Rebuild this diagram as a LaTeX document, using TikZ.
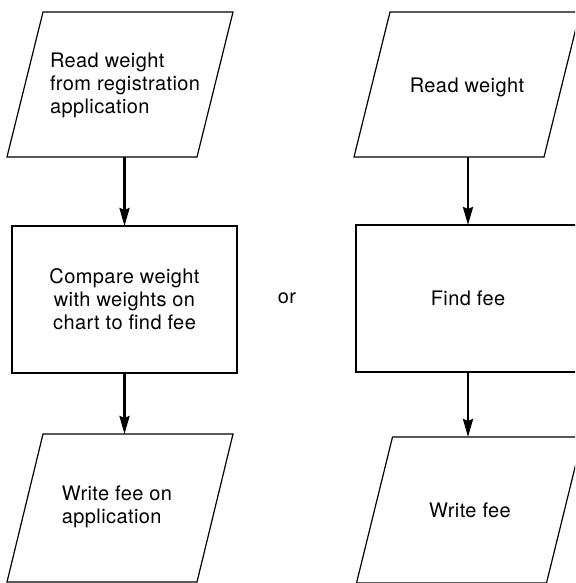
\documentclass[tikz,border=0pt]{standalone}
\usepackage{fontspec}
\setmainfont{TeX Gyre Heros}[LetterSpace=2]
\usetikzlibrary{arrows.meta}
\begin{document}
\begin{tikzpicture}[x=1pt,y=1pt,
  every node/.style={font=\fontsize{20}{23}\selectfont, inner sep=0pt, outer sep=0pt},
  parabody/.style={rectangle, minimum width=190pt, minimum height=145pt},
  paraline/.style={line width=1.2pt, line join=miter},
  procbox/.style={draw, line width=1.2pt, rectangle, minimum width=225pt, minimum height=147pt},
  arr/.style={line width=2.6pt, -{Stealth[length=18pt,width=10pt,inset=2pt]}}]
\useasboundingbox (0,0) rectangle (575,-583);
\clip (0,0) rectangle (575,-583);
% left column
\node[parabody] (p1) at (120,-84.5) {};
\node[align=left] (t1) at (125,-85) {Read weight\\from registration\\application};
\node[procbox, align=center] (b1) at (124.5,-299.5) {Compare weight\\with weights on\\chart to find fee};
\node[parabody, minimum height=148pt] (p3) at (120,-508) {};
\node[align=left] (t3) at (117,-507) {Write fee on\\application};
% or
\node (or) at (287,-298) {or};
% right column
\node[parabody] (p2) at (467,-84.5) {};
\node (t2) at (467,-87) {Read weight};
\node[procbox, minimum width=224pt] (b2) at (468,-298.5) {Find fee};
\node[parabody, minimum height=146pt] (p4) at (469.5,-510) {};
\node (t4) at (470,-510) {Write fee};
% parallelogram outlines
\foreach \p in {p1,p2,p3,p4}{
  \draw[paraline] ([xshift=-18pt]\p.south west) -- ([xshift=-18pt]\p.south east)
     -- ([xshift=18pt]\p.north east) -- ([xshift=18pt]\p.north west) -- cycle;
}
% connectors
\draw[arr] (p1.south -| b1.north) -- (b1.north);
\draw[arr] (b1.south) -- (p3.north -| b1.south);
\draw[arr] (p2.south -| b2.north) -- (b2.north);
\draw[arr] (b2.south) -- (p4.north -| b2.south);
\end{tikzpicture}
\end{document}
